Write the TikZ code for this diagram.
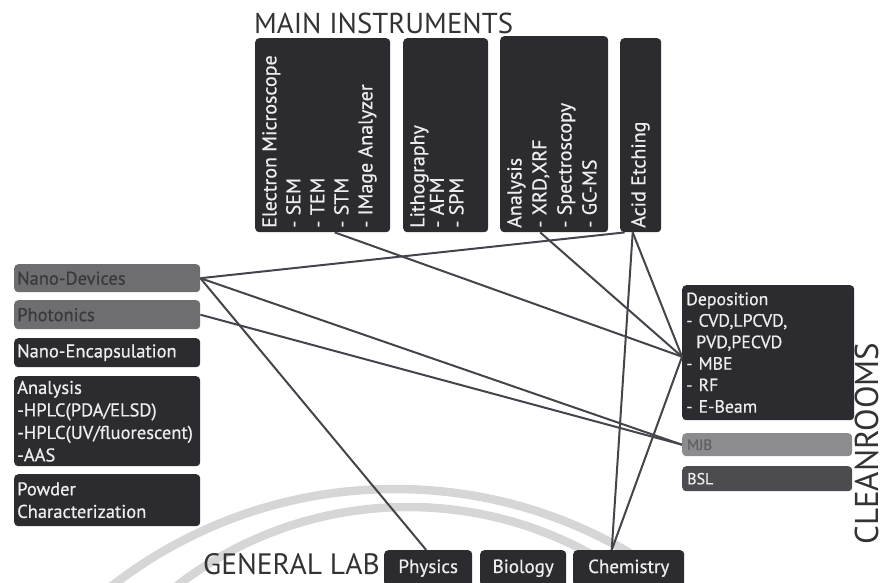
\documentclass[tikz,border=0pt]{standalone}
\usepackage{fontspec}
\setmainfont{PT Sans}
\newfontfamily\boxfont[FakeBold=0.6]{PT Sans}
\definecolor{boxdark}{HTML}{2C2C30}
\definecolor{boxgray}{HTML}{6E6E70}
\definecolor{boxlight}{HTML}{8C8C8E}
\definecolor{boxmid}{HTML}{4C4C50}
\definecolor{txtgray}{HTML}{3A3A3C}
\definecolor{txtlight}{HTML}{606062}
\definecolor{boxtext}{HTML}{EDEDED}
\definecolor{conncol}{HTML}{44444C}
\definecolor{arccol}{HTML}{D6D6D6}
\definecolor{titlecol}{HTML}{333333}
\begin{document}
\begin{tikzpicture}[x=1pt,y=-1pt,
  box/.style={rounded corners=4pt, anchor=north west, inner xsep=3pt, inner ysep=0pt,
    align=left, font=\boxfont\fontsize{18.5}{22.5}\selectfont},
  dbox/.style={box, fill=boxdark, text=boxtext},
  gbox/.style={box, fill=boxgray, text=txtgray},
  vtext/.style={rotate=90, anchor=north west, inner sep=0pt, align=left, text=boxtext,
    font=\boxfont\fontsize{20}{24}\selectfont},
  title/.style={inner sep=0pt, text=titlecol, font=\fontsize{28.8}{30}\selectfont},
  conn/.style={draw=conncol, line width=2pt},
  arcline/.style={draw=arccol, line width=8.5pt}]
\useasboundingbox (0,0) rectangle (883,582);
% background arcs
\begin{scope}
  \clip (0,0) rectangle (883,582);
  \coordinate (oc) at (395,951);
  \coordinate (ic) at (408,885);
  \draw[arcline] (oc) circle[radius=462pt];
  \draw[arcline] (ic) circle[radius=378pt];
\end{scope}
% titles
\node[title, anchor=base west] (mi) at (254,33) {MAIN INSTRUMENTS};
\node[title, anchor=base west, font=\fontsize{29.5}{30}\selectfont] (gl) at (203,574) {GENERAL LAB};
\node[title, anchor=base west, rotate=90, font=\fontsize{33}{34}\selectfont] (cr) at (878,545) {CLEANROOMS};
% top instruments
\node[dbox, minimum width=135pt, minimum height=194pt] (em) at (255,38) {};
\node[dbox, minimum width=85pt, minimum height=194pt] (li) at (403,38) {};
\node[dbox, minimum width=108pt, minimum height=196pt] (an) at (500,36) {};
\node[dbox, minimum width=41pt, minimum height=194pt] (ac) at (620,38) {};
\node[vtext] (emt) at (262,228) {Electron Microscope\\- SEM\\- TEM\\- STM\\- IMage Analyzer};
\node[vtext, font=\boxfont\fontsize{20}{19.5}\selectfont] (lit) at (410,228) {Lithography\\- AFM\\- SPM};
\node[vtext, font=\boxfont\fontsize{20}{25}\selectfont] (ant) at (507,228) {Analysis\\- XRD,XRF\\- Spectroscopy\\- GC-MS};
\node[vtext] (act) at (631,228) {Acid Etching};
% left boxes
\node[gbox, minimum height=28pt, text width=180pt] (nd) at (14,264) {Nano-Devices};
\node[gbox, minimum height=29pt, text width=180pt] (ph) at (14,300) {Photonics};
\node[dbox, minimum height=29pt, text width=180pt] (ne) at (14,338) {Nano-Encapsulation};
\node[dbox, minimum height=90pt, text width=180pt] (la) at (14,376) {Analysis\\-HPLC(PDA/ELSD)\\-HPLC(UV/fluorescent)\\-AAS};
\node[dbox, minimum height=52pt, text width=180pt] (pc) at (14,474) {Powder\\Characterization};
% right boxes
\node[dbox, minimum height=135pt, text width=164pt, inner xsep=4pt, font=\boxfont\fontsize{17.8}{21.5}\selectfont] (dep) at (682,285)
  {Deposition\\- CVD,LPCVD,\\\hspace*{10pt}PVD,PECVD\\- MBE\\- RF\\- E-Beam};
\node[box, fill=boxlight, text=txtlight, minimum height=23pt, text width=160pt, inner xsep=5pt, font=\boxfont\fontsize{15}{16}\selectfont] (mjb) at (682,433) {MJB};
\node[box, fill=boxmid, text=boxtext, minimum height=25pt, text width=160pt, inner xsep=5pt, font=\boxfont\fontsize{16}{16}\selectfont] (bsl) at (682,466) {BSL};
% general lab boxes
\node[dbox, align=center, minimum width=88pt, minimum height=36pt, font=\boxfont\fontsize{19}{20}\selectfont] (phy) at (384,550) {Physics};
\node[dbox, align=center, minimum width=86pt, minimum height=36pt, font=\boxfont\fontsize{19}{20}\selectfont] (bio) at (480,550) {Biology};
\node[dbox, align=center, minimum width=111pt, minimum height=36pt, font=\boxfont\fontsize{19}{20}\selectfont] (che) at (573,550) {Chemistry};
% connectors
\draw[conn] (nd.east) -- ([xshift=-16pt]ac.south);
\draw[conn] (nd.east) -- (mjb.west);
\draw[conn] (nd.east) -- ([xshift=-2pt]phy.north);
\draw[conn] (ph.east) -- (mjb.west);
\draw[conn] ([xshift=12pt]em.south) -- ([yshift=-4pt]dep.west);
\draw[conn] ([xshift=-14pt]an.south) -- ([yshift=-4pt]dep.west);
\draw[conn] ([xshift=-8pt]ac.south) -- ([yshift=-4pt]dep.west);
\draw[conn] ([xshift=-8pt]ac.south) -- ([xshift=-17pt]che.north);
\draw[conn] ([yshift=-4pt]dep.west) -- ([xshift=-17pt]che.north);
\end{tikzpicture}
\end{document}
